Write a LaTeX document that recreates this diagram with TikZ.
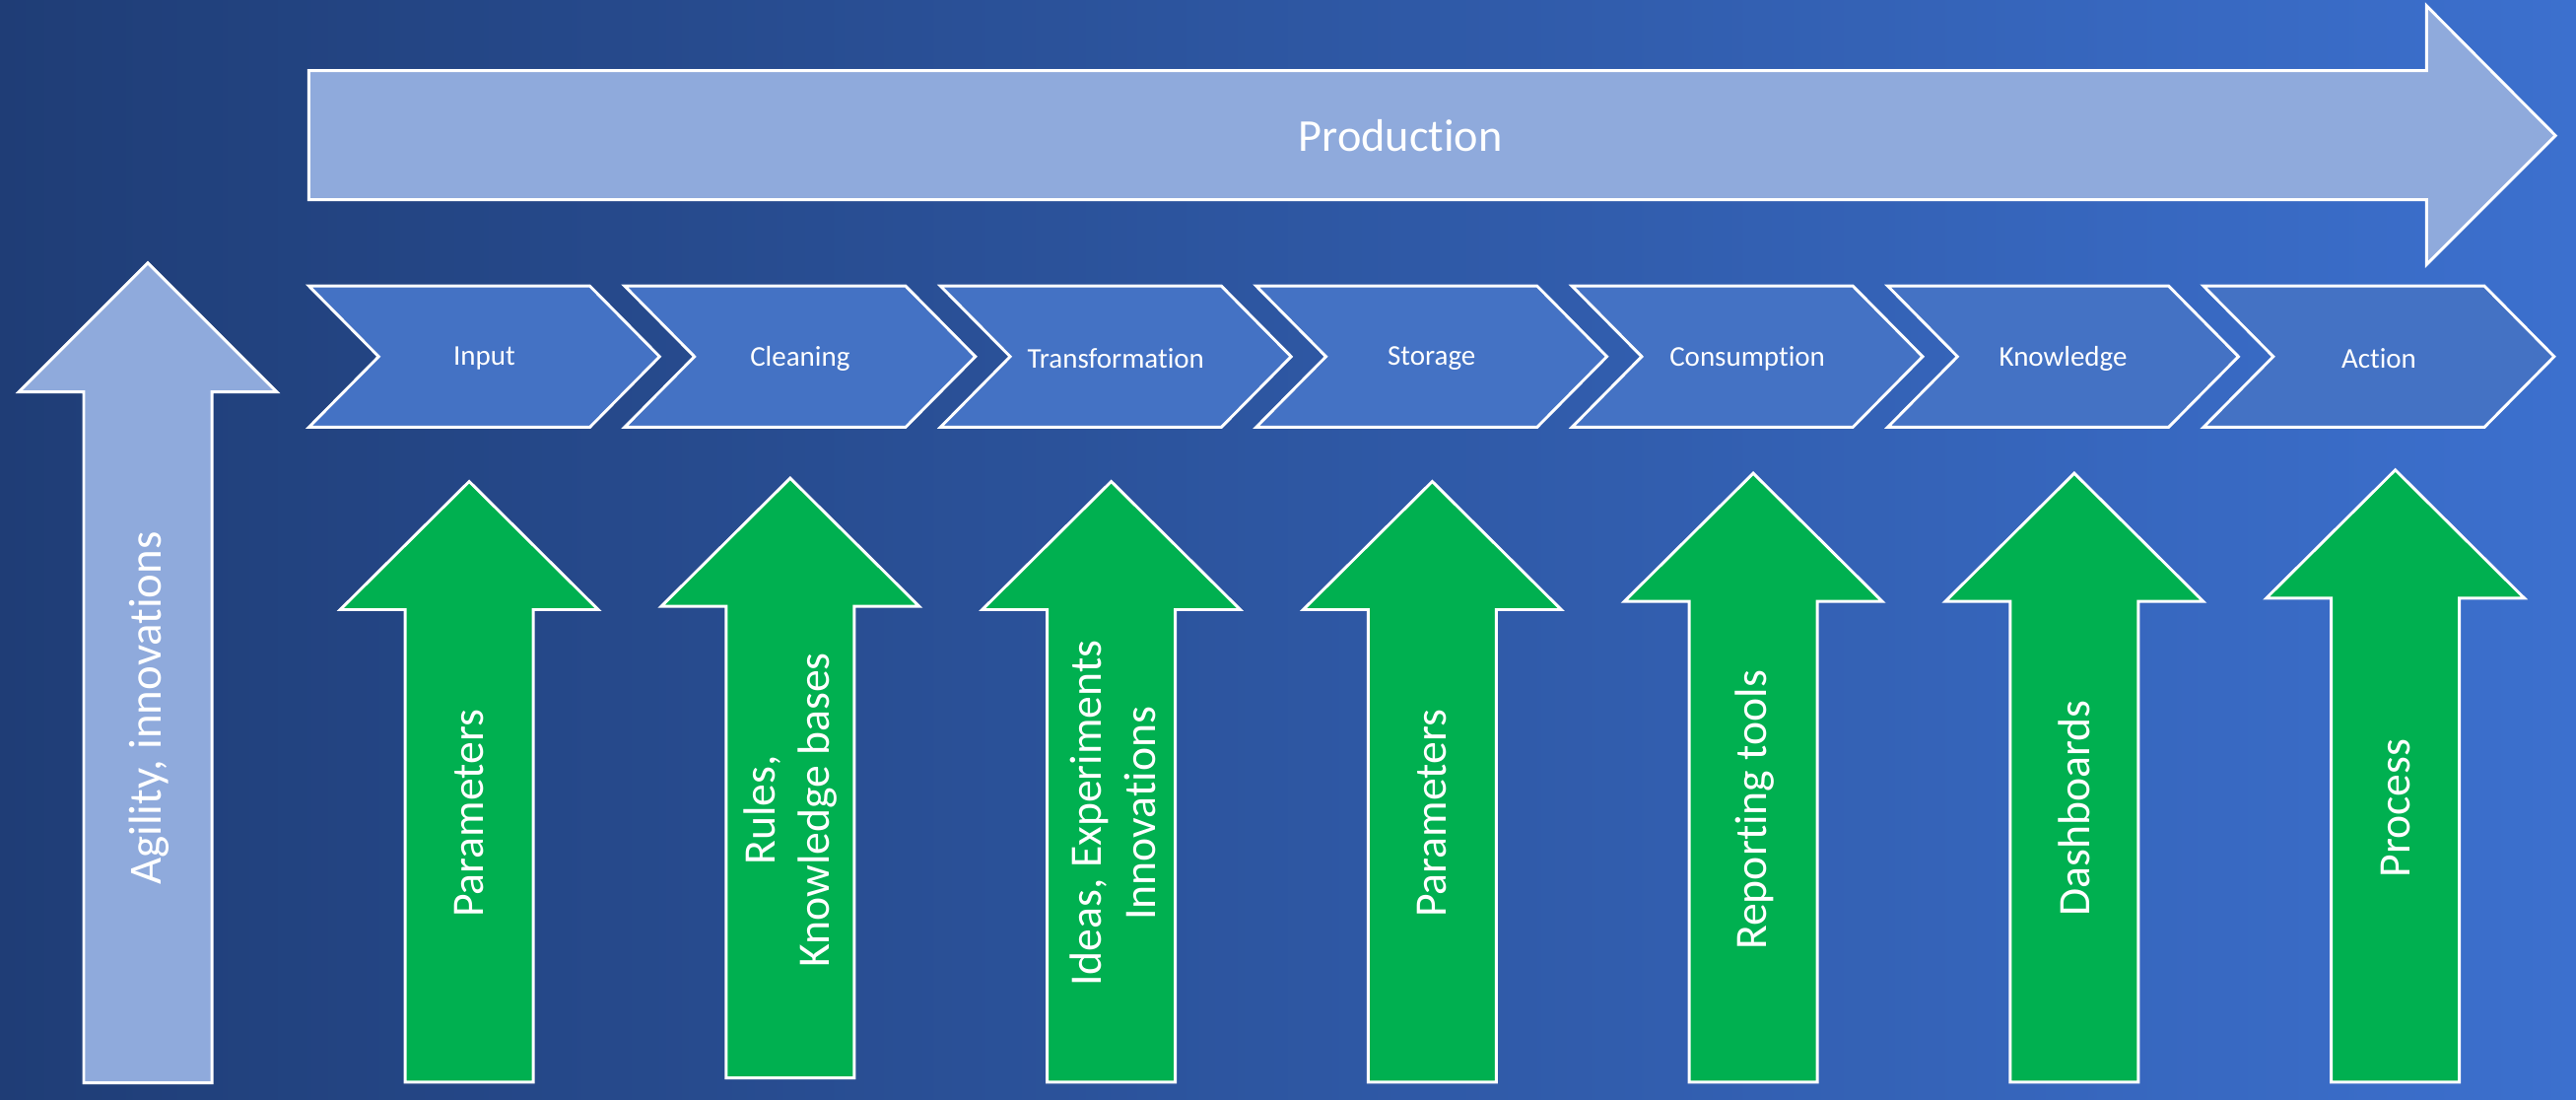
\documentclass[tikz,border=0pt]{standalone}
\usepackage{fontspec}
\setmainfont{Carlito}[Ligatures = NoCommon]
\usepackage{tikz}
\definecolor{bgdark}{RGB}{31,61,118}
\definecolor{bglight}{RGB}{60,112,206}
\definecolor{mblue}{RGB}{68,114,196}
\definecolor{lblue}{RGB}{143,170,220}
\definecolor{mgreen}{RGB}{0,176,80}
\tikzset{outl/.style = {draw = white, line width = 1pt, line join = miter}}
\tikzset{bigarrow/.style = {outl, fill = lblue}}
\tikzset{chev/.style = {outl, fill = mblue}}
\tikzset{uparrow/.style = {outl, fill = mgreen}}
\tikzset{steplabel/.style = {text = white, inner sep = 0, font = \fontsize{9.9}{12}\selectfont}}
\tikzset{uplabel/.style = {text = white, inner sep = 0, rotate = 90, align = center, font = \fontsize{15.6}{18.8}\selectfont}}

\begin{document}
\begin{tikzpicture}[x = 0.02cm, y = -0.02cm]

      \useasboundingbox (0, 0) rectangle (1568, 669.4);
      \shade [left color = bgdark, right color = bglight] (0, 0) rectangle (1568, 669.4);

      \draw [bigarrow] (188, 43) -- (1477, 43) -- (1477, 3.5) -- (1555.5, 82.5) -- (1477, 161) -- (1477, 121.5) -- (188, 121.5) -- cycle;
      \draw [bigarrow] (51, 659) -- (51, 238.5) -- (11.5, 238.5) -- (90, 160) -- (168.5, 238.5) -- (129, 238.5) -- (129, 659) -- cycle;

      \draw [chev] (188, 174) -- ++(171, 0) -- ++(42.5, 43) -- ++(-42.5, 43) -- ++(-171, 0) -- ++(42.5, -43) -- cycle;
      \draw [chev] (380.2, 174) -- ++(171, 0) -- ++(42.5, 43) -- ++(-42.5, 43) -- ++(-171, 0) -- ++(42.5, -43) -- cycle;
      \draw [chev] (572.4, 174) -- ++(171, 0) -- ++(42.5, 43) -- ++(-42.5, 43) -- ++(-171, 0) -- ++(42.5, -43) -- cycle;
      \draw [chev] (764.6, 174) -- ++(171, 0) -- ++(42.5, 43) -- ++(-42.5, 43) -- ++(-171, 0) -- ++(42.5, -43) -- cycle;
      \draw [chev] (956.8, 174) -- ++(171, 0) -- ++(42.5, 43) -- ++(-42.5, 43) -- ++(-171, 0) -- ++(42.5, -43) -- cycle;
      \draw [chev] (1149, 174) -- ++(171, 0) -- ++(42.5, 43) -- ++(-42.5, 43) -- ++(-171, 0) -- ++(42.5, -43) -- cycle;
      \draw [chev] (1341.2, 174) -- ++(171, 0) -- ++(42.5, 43) -- ++(-42.5, 43) -- ++(-171, 0) -- ++(42.5, -43) -- cycle;

      \draw [uparrow] (246.6, 658.5) -- (246.6, 371) -- (207.1, 371) -- (285.6, 293) -- (364.1, 371) -- (324.6, 371) -- (324.6, 658.5) -- cycle;
      \draw [uparrow] (442, 656) -- (442, 369) -- (402.5, 369) -- (481, 291) -- (559.5, 369) -- (520, 369) -- (520, 656) -- cycle;
      \draw [uparrow] (637.4, 658.5) -- (637.4, 371) -- (597.9, 371) -- (676.4, 293) -- (754.9, 371) -- (715.4, 371) -- (715.4, 658.5) -- cycle;
      \draw [uparrow] (832.8, 658.5) -- (832.8, 371) -- (793.3, 371) -- (871.8, 293) -- (950.3, 371) -- (910.8, 371) -- (910.8, 658.5) -- cycle;
      \draw [uparrow] (1028.2, 658.5) -- (1028.2, 366) -- (988.7, 366) -- (1067.2, 288) -- (1145.7, 366) -- (1106.2, 366) -- (1106.2, 658.5) -- cycle;
      \draw [uparrow] (1223.6, 658.5) -- (1223.6, 366) -- (1184.1, 366) -- (1262.6, 288) -- (1341.1, 366) -- (1301.6, 366) -- (1301.6, 658.5) -- cycle;
      \draw [uparrow] (1419, 658.5) -- (1419, 364) -- (1379.5, 364) -- (1458, 286) -- (1536.5, 364) -- (1497, 364) -- (1497, 658.5) -- cycle;

      \node [text = white, font = \fontsize{15.8}{19}\selectfont] (prod) at (852.5, 82.5) {Production};
      \node [uplabel, font = \fontsize{16}{19}\selectfont] (agil) at (90.5, 431) {Agility, innovations};

      \node [steplabel] (input) at (294.8, 218) {Input};
      \node [steplabel] (clean) at (487, 218) {Cleaning};
      \node [steplabel] (transf) at (679.2, 218) {Transformation};
      \node [steplabel] (store) at (871.4, 218) {Storage};
      \node [steplabel] (consum) at (1063.6, 218) {Consumption};
      \node [steplabel] (knowl) at (1255.8, 218) {Knowledge};
      \node [steplabel] (act) at (1448, 218) {Action};

      \node [uplabel] (param1) at (285.6, 495) {Parameters};
      \node [uplabel] (rules) at (481, 493) {Rules,\\Knowledge bases};
      \node [uplabel] (ideas) at (677.4, 495) {Ideas, Experiments\\Innovations};
      \node [uplabel] (param2) at (871.8, 495) {Parameters};
      \node [uplabel] (report) at (1068.2, 493) {Reporting tools};
      \node [uplabel] (dash) at (1262.6, 492) {Dashboards};
      \node [uplabel] (proc) at (1458, 492) {Process};

    \end{tikzpicture}
\end{document}
